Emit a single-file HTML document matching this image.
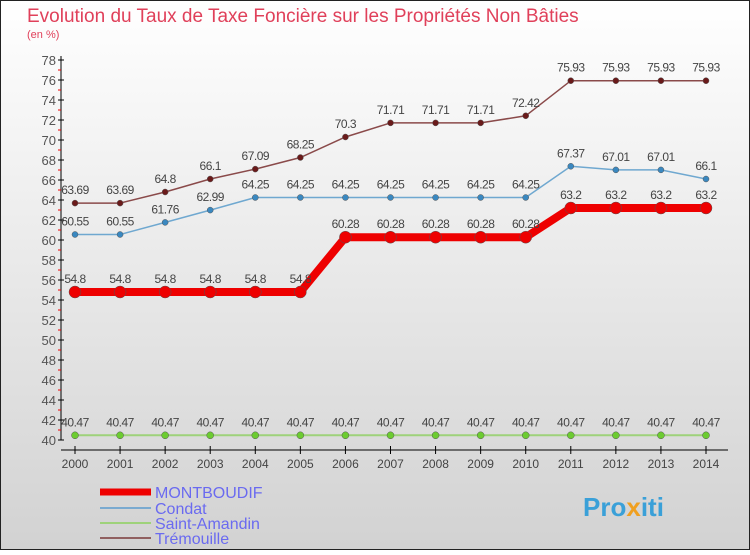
<!DOCTYPE html>
<html><head><meta charset="utf-8"><style>
html,body{margin:0;padding:0}
body{width:750px;height:550px;overflow:hidden;font-family:"Liberation Sans",sans-serif}
</style></head><body>
<svg width="750" height="550" xmlns="http://www.w3.org/2000/svg" id="svg">
<defs><linearGradient id="bg" x1="0" y1="0" x2="0" y2="1"><stop offset="0" stop-color="#ffffff"/><stop offset="1" stop-color="#d2d2d2"/></linearGradient></defs>
<rect x="0.5" y="0.5" width="749" height="549" fill="url(#bg)" stroke="#222" stroke-width="1"/>
<text x="27" y="22" font-size="19" fill="#e0405a">Evolution du Taux de Taxe Foncière sur les Propriétés Non Bâties</text>
<text x="27" y="38" font-size="11" fill="#e0405a">(en %)</text>
<g id="axes"></g><g id="series"></g><g id="legend"></g>
<text x="583" y="516" font-size="26" font-weight="bold" fill="#3aa0d8">Pro<tspan fill="#f0a020">x</tspan>iti</text>
</svg>
<script>
const years=[2000,2001,2002,2003,2004,2005,2006,2007,2008,2009,2010,2011,2012,2013,2014];
const montboudif=[54.8,54.8,54.8,54.8,54.8,54.8,60.28,60.28,60.28,60.28,60.28,63.2,63.2,63.2,63.2];
const condat=[60.55,60.55,61.76,62.99,64.25,64.25,64.25,64.25,64.25,64.25,64.25,67.37,67.01,67.01,66.1];
const saintAmandin=[40.47,40.47,40.47,40.47,40.47,40.47,40.47,40.47,40.47,40.47,40.47,40.47,40.47,40.47,40.47];
const tremouille=[63.69,63.69,64.8,66.1,67.09,68.25,70.3,71.71,71.71,71.71,72.42,75.93,75.93,75.93,75.93];
const yTicks=[40,42,44,46,48,50,52,54,56,58,60,62,64,66,68,70,72,74,76,78];
const NS="http://www.w3.org/2000/svg";
const x=i=>75+i*(706-75)/(years.length-1);
const y=v=>440-(v-40)*10;
function mk(p,t,a){const e=document.createElementNS(NS,t);for(const k in a)e.setAttribute(k,a[k]);p.appendChild(e);return e;}
const ax=document.getElementById('axes');
let e=mk(ax,'line',{x1:61,y1:56,x2:61,y2:440,stroke:'#000'});


e=mk(ax,'line',{x1:61,y1:450,x2:728,y2:450,stroke:'#000'});


yTicks.forEach(v=>{
 mk(ax,'line',{x1:58,y1:y(v),x2:64,y2:y(v),stroke:'#000'});
 if(v<78)mk(ax,'line',{x1:58,y1:y(v+1),x2:61,y2:y(v+1),stroke:'#e00'});
 const t=mk(ax,'text',{x:56,y:y(v)+5,'text-anchor':'end','font-size':13,fill:'#555'});t.textContent=v;
 
 
});
years.forEach((yr,i)=>{
 mk(ax,'line',{x1:x(i),y1:446,x2:x(i),y2:454,stroke:'#000'});
 const t=mk(ax,'text',{x:x(i),y:468,'text-anchor':'middle','font-size':12,fill:'#444'});t.textContent=yr;
 
 
});
const sg=document.getElementById('series');
function draw(name,data,col,w,dot,r){
 const g=mk(sg,'g',{});
 
 
 mk(g,'polyline',{points:data.map((v,i)=>x(i)+','+y(v)).join(' '),fill:'none',stroke:col,'stroke-width':w});
 data.forEach((v,i)=>{
  const c=mk(g,'circle',{cx:x(i),cy:y(v),r:r,fill:dot,stroke:'#555','stroke-width':0.5});
  
  
  const t=mk(g,'text',{x:x(i),y:y(v)-9,'text-anchor':'middle','font-size':12,fill:'#444','letter-spacing':'-0.5'});t.textContent=v;
  
  
 });
}
draw('saint-amandin',saintAmandin,'#9ed27a',2,'#6ccc30',3.5);
draw('tremouille',tremouille,'#8a4a4a',1.5,'#6a1a1a',3);
draw('condat',condat,'#6fa8d0',1.5,'#3a88c0',3);
draw('montboudif',montboudif,'#ee0000',8,'#ee0000',6);
const lg=document.getElementById('legend');
[['MONTBOUDIF','#ee0000',7,492],['Condat','#7aaad0',2,508],['Saint-Amandin','#9ed27a',2,523],['Trémouille','#906060',2,538]].forEach(([n,c,w,yy])=>{
 const g=mk(lg,'g',{});
 
 
 mk(g,'line',{x1:100,y1:yy,x2:151,y2:yy,stroke:c,'stroke-width':w});
 const t=mk(g,'text',{x:155,y:yy+6,'font-size':16,fill:'#6a6af0'});t.textContent=n;
});
</script>
</body></html>
